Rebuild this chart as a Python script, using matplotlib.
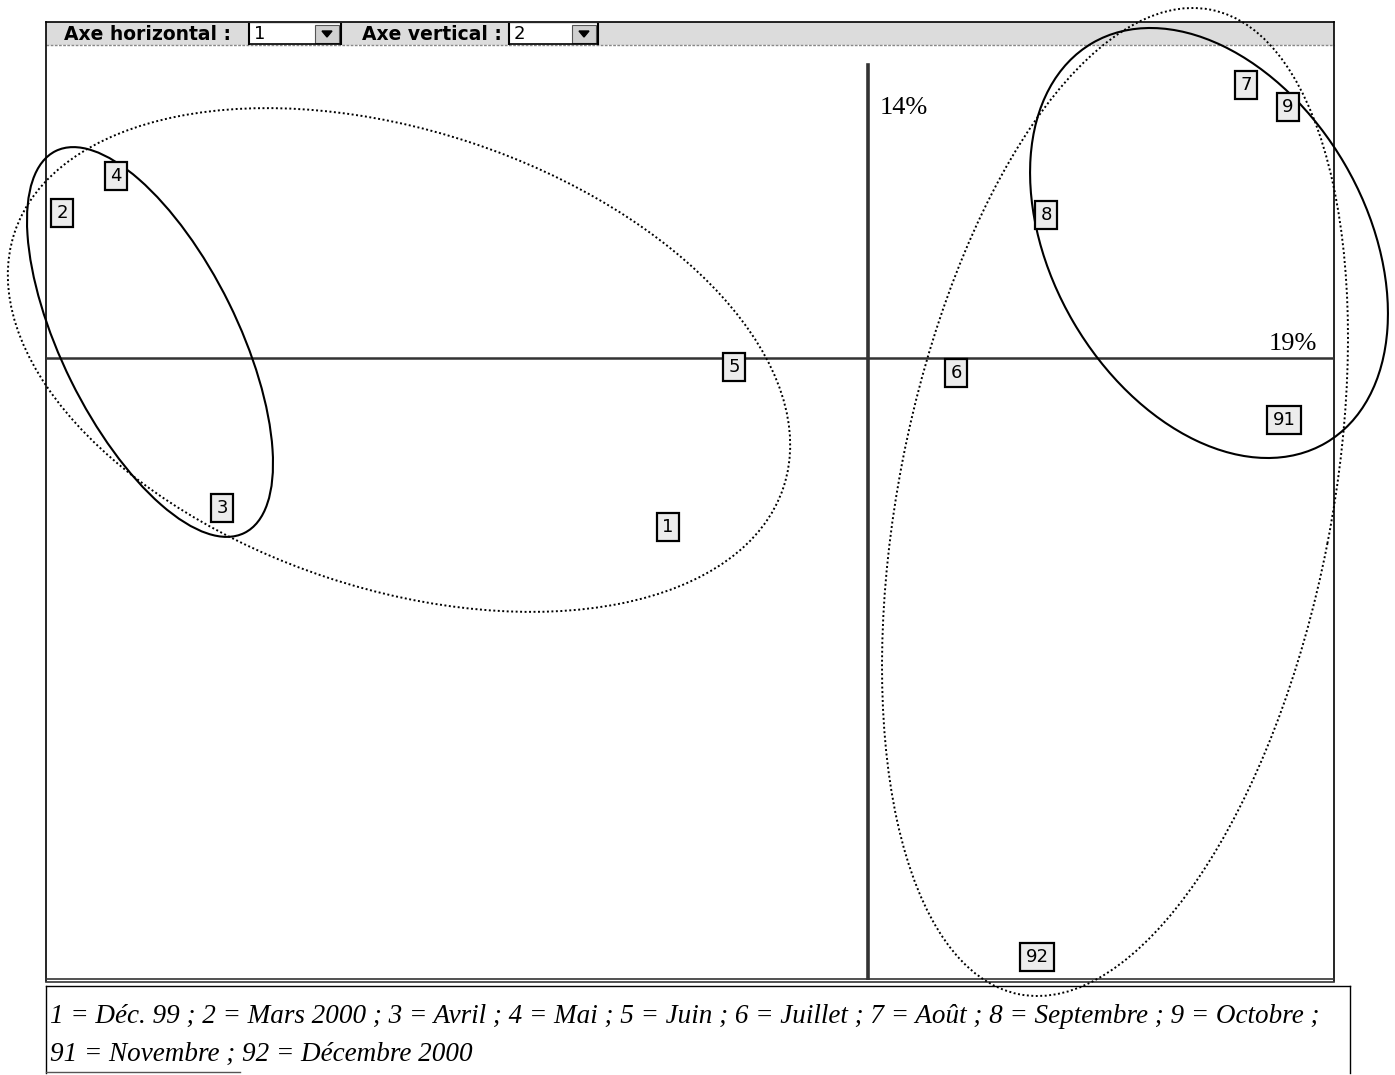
"""
Plan factoriel (axes 1 et 2) des mois d'enquête, avec regroupements en ellipses.
"""

import matplotlib
matplotlib.use("Agg")
import matplotlib.pyplot as plt
from matplotlib.patches import Ellipse, Rectangle, Polygon


# -------------------------------------------------
# Data (coordonnées factorielles)
# -------------------------------------------------

labels = ["1", "2", "3", "4", "5", "6", "7", "8", "9", "91", "92"]
axe1 = [-1.00, -4.03, -3.23, -3.76, -0.67, 0.44, 1.89, 0.89, 2.10, 2.08, 0.845]
axe2 = [-0.845, 0.725, -0.75, 0.91, -0.045, -0.075, 1.365, 0.715, 1.255, -0.31, -2.995]

inertia_h = "19%"
inertia_v = "14%"

# ellipses de regroupement : centre, largeur, hauteur, angle, style
ell_cx = [-3.59, -2.345, 1.705, 1.235]
ell_cy = [0.08, -0.01, 0.575, -0.72]
ell_w = [2.13, 4.05, 2.315, 5.015]
ell_h = [0.88, 2.29, 1.57, 2.164]
ell_angle = [-63.7, -18.3, -59.7, 79.0]
ell_style = ["solid", "dotted", "solid", "dotted"]

legend_lines = [
    "1 = Déc. 99 ; 2 = Mars 2000 ; 3 = Avril ; 4 = Mai ; 5 = Juin ; 6 = Juillet ; "
    "7 = Août ; 8 = Septembre ; 9 = Octobre ;",
    "91 = Novembre ; 92 = Décembre 2000",
]

# -------------------------------------------------
# Figure
# -------------------------------------------------

W, H = 1395, 1075
fig = plt.figure(figsize=(W / 100, H / 100), dpi=100)

# background layer in pixel coordinates (frame, toolbar, legend box)
bg = fig.add_axes([0, 0, 1, 1], zorder=0)
bg.set_xlim(0, W)
bg.set_ylim(H, 0)
bg.axis("off")

# toolbar band
bg.add_patch(Rectangle((46, 22), 1288, 23, facecolor="#dcdcdc", edgecolor="none"))
bg.plot([46, 1334], [45, 45], color="#888888", lw=1, ls=(0, (2, 1)))
bg.text(64, 34, "Axe horizontal :", fontsize=13.5, fontweight="bold",
        family="DejaVu Sans", va="center", ha="left")
bg.text(362, 34, "Axe vertical :", fontsize=13.5, fontweight="bold",
        family="DejaVu Sans", va="center", ha="left")
for x0, x1, val in [(249, 341, "1"), (509, 598, "2")]:
    bg.add_patch(Rectangle((x0, 24), x1 - x0, 20, facecolor="white", edgecolor="none"))
    bg.plot([x0, x0], [24, 44], color="black", lw=1.5)
    bg.plot([x0, x1], [44, 44], color="black", lw=1.2)
    bg.add_patch(Rectangle((x1 - 26, 25), 24, 18, facecolor="#d0d0d0",
                           edgecolor="#555555", lw=0.8))
    bg.plot([x1, x1], [24, 44], color="black", lw=1.5)
    bg.add_patch(Polygon([[x1 - 19, 31], [x1 - 9, 31], [x1 - 14, 37]],
                         closed=True, color="black"))
    bg.text(x0 + 5, 34, val, fontsize=13, family="DejaVu Sans", va="center", ha="left")

# main frame
bg.plot([46, 46], [22, 981], color="black", lw=1.2)
bg.plot([1334, 1334], [22, 981], color="black", lw=1.2)
bg.plot([46, 1334], [22, 22], color="black", lw=1.2)
bg.plot([46, 1334], [979, 979], color="#333333", lw=1.2)
bg.plot([46, 1334], [982, 982], color="#333333", lw=1.2)

# legend box
bg.plot([46, 1350], [986, 986], color="black", lw=1)
bg.plot([46, 46], [986, 1073], color="black", lw=1)
bg.plot([1350, 1350], [986, 1073], color="black", lw=1)
bg.plot([46, 240], [1072, 1072], color="#555555", lw=1)
bg.text(50, 1023, legend_lines[0], fontsize=19.5, style="italic",
        family="Liberation Serif", ha="left", va="baseline")
bg.text(50, 1061, legend_lines[1], fontsize=19.5, style="italic",
        family="Liberation Serif", ha="left", va="baseline")

# data axes (1 unit = 200 px in both directions)
ax = fig.add_axes([46 / W, (H - 980) / H, 1288 / W, 935 / H], zorder=1)
ax.patch.set_alpha(0)
ax.set_xlim(-4.11, 2.33)
ax.set_ylim(-3.11, 1.565)
ax.axis("off")

# factor axes
ax.plot([0, 0], [-3.11, 1.465], color="#333333", lw=2.6, zorder=2)
ax.plot([-4.11, 2.33], [0, 0], color="#333333", lw=1.8, zorder=2)

ax.text(0.06, 1.25, inertia_v, fontsize=19, family="Liberation Serif",
        ha="left", va="center")
ax.text(2.245, 0.015, inertia_h, fontsize=19, family="Liberation Serif",
        ha="right", va="bottom")

# grouping ellipses
for cx, cy, w, h, a, st in zip(ell_cx, ell_cy, ell_w, ell_h, ell_angle, ell_style):
    if st == "solid":
        ls, lw = "-", 1.5
    else:
        ls, lw = (0, (1, 1.3)), 1.4
    e = Ellipse((cx, cy), w, h, angle=a, fill=False, edgecolor="black",
                lw=lw, ls=ls, clip_on=False, zorder=3)
    ax.add_patch(e)

# point labels in boxes
for lab, x, y in zip(labels, axe1, axe2):
    ax.text(x, y, lab, fontsize=13, family="DejaVu Sans", ha="center", va="center",
            zorder=5,
            bbox=dict(boxstyle="square,pad=0.3", facecolor="#ececec",
                      edgecolor="black", lw=1.6))

fig.savefig("out.png", dpi=100)
